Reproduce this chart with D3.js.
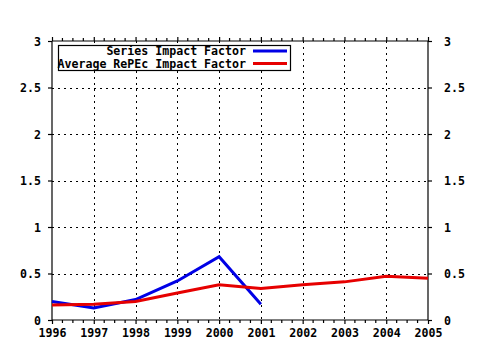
<!DOCTYPE html>
<html>
<head>
<meta charset="utf-8">
<script src="https://cdn.jsdelivr.net/npm/d3@7"></script>
<style>
  html, body { margin: 0; padding: 0; background: #fff; }
  svg text { font-family: "DejaVu Sans Mono", monospace; font-weight: bold; font-size: 11.6px; fill: #000; }
</style>
</head>
<body>
<svg id="chart" width="480" height="350"></svg>
<script>
const years = [1996, 1997, 1998, 1999, 2000, 2001, 2002, 2003, 2004, 2005];
const seriesYears = [1996, 1997, 1998, 1999, 2000, 2001];
const seriesIF = [0.20, 0.13, 0.22, 0.42, 0.68, 0.17];
const avgIF = [0.16, 0.17, 0.20, 0.29, 0.38, 0.34, 0.38, 0.41, 0.47, 0.45];
const yTicks = [0, 0.5, 1, 1.5, 2, 2.5, 3];
const yTickLabels = ["0", "0.5", "1", "1.5", "2", "2.5", "3"];
const legendLabels = ["Series Impact Factor", "Average RePEc Impact Factor"];
const colors = ["#0000e6", "#e60000"];

(function () {
const svg = d3.select("#chart");
const L = 52, R = 428, T = 41, B = 320;
const x = d3.scaleLinear().domain([1996, 2005]).range([L, R]);
const y = d3.scaleLinear().domain([0, 3]).range([B, T]);

// grid
const grid = svg.append("g").attr("stroke", "#000").attr("stroke-width", 1)
  .attr("stroke-dasharray", "2,4").attr("shape-rendering", "crispEdges");
years.slice(1, -1).forEach(v => {
  grid.append("line").attr("x1", Math.round(x(v)) + 0.5).attr("x2", Math.round(x(v)) + 0.5)
    .attr("y1", T).attr("y2", B);
});
yTicks.slice(1, -1).forEach(v => {
  grid.append("line").attr("y1", Math.round(y(v)) + 0.5).attr("y2", Math.round(y(v)) + 0.5)
    .attr("x1", L).attr("x2", R);
});

// axes
const minorTicks = [];
for (let i = 0; i < years.length - 1; i++) for (let k = 1; k < 4; k++) minorTicks.push(years[i] + k / 4);

const fmt = d => yTickLabels[yTicks.indexOf(d)];
const axB = d3.axisBottom(x).tickValues(years).tickFormat(d3.format("d")).tickSize(4).tickPadding(9);
const axT = d3.axisTop(x).tickValues(years).tickFormat("").tickSize(4);
const axL = d3.axisLeft(y).tickValues(yTicks).tickFormat(fmt).tickSize(4).tickPadding(7);
const axR = d3.axisRight(y).tickValues(yTicks).tickFormat(fmt).tickSize(4).tickPadding(12);

function style(g) {
  g.attr("font-family", null).attr("font-size", null);
  g.selectAll("path.domain").attr("stroke", "#000").attr("stroke-width", 1.2);
  g.selectAll(".tick line").attr("stroke", "#000").attr("stroke-width", 1.2);
}
svg.append("g").attr("transform", `translate(0,${B})`).call(axB).call(style)
  .call(g => g.select("path.domain").attr("d", `M${L},0H${R}`));
svg.append("g").attr("transform", `translate(0,${T})`).call(axT).call(style)
  .call(g => g.select("path.domain").attr("d", `M${L},0H${R}`));
svg.append("g").attr("transform", `translate(${L},0)`).call(axL).call(style)
  .call(g => g.select("path.domain").attr("d", `M0,${T}V${B}`));
svg.append("g").attr("transform", `translate(${R},0)`).call(axR).call(style)
  .call(g => g.select("path.domain").attr("d", `M0,${T}V${B}`));
svg.selectAll("text").attr("dy", null).attr("dominant-baseline", "central");

// minor ticks
svg.append("g").selectAll("line").data(minorTicks).join("line")
  .attr("x1", d => x(d)).attr("x2", d => x(d)).attr("y1", B).attr("y2", B + 3)
  .attr("stroke", "#000").attr("stroke-width", 1.2);
svg.append("g").selectAll("line").data(minorTicks).join("line")
  .attr("x1", d => x(d)).attr("x2", d => x(d)).attr("y1", T).attr("y2", T - 3)
  .attr("stroke", "#000").attr("stroke-width", 1.2);

// lines
const line = d3.line().x(d => x(d[0])).y(d => y(d[1]));
svg.append("path").datum(seriesYears.map((yr, i) => [yr, seriesIF[i]]))
  .attr("d", line).attr("fill", "none").attr("stroke", colors[0]).attr("stroke-width", 3);
svg.append("path").datum(years.map((yr, i) => [yr, avgIF[i]]))
  .attr("d", line).attr("fill", "none").attr("stroke", colors[1]).attr("stroke-width", 3);

// legend
const lg = svg.append("g");
lg.append("rect").attr("x", 58.5).attr("y", 45.5).attr("width", 232).attr("height", 25)
  .attr("fill", "#fff").attr("stroke", "#000").attr("stroke-width", 1.2);
const rowsY = [51, 63.5];
legendLabels.forEach((lab, i) => {
  lg.append("text").attr("x", 246).attr("y", rowsY[i]).attr("text-anchor", "end")
    .attr("dominant-baseline", "central").text(lab);
  lg.append("line").attr("x1", 253).attr("x2", 287).attr("y1", rowsY[i]).attr("y2", rowsY[i])
    .attr("stroke", colors[i]).attr("stroke-width", 3);
});
})();
</script>
</body>
</html>
